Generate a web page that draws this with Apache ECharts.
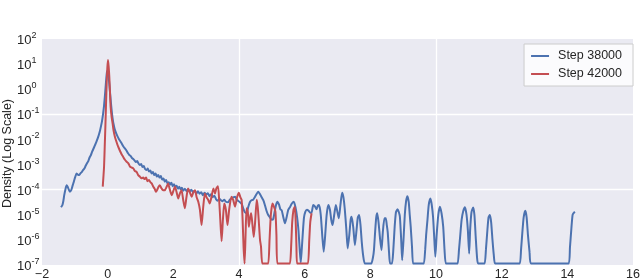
<!DOCTYPE html>
<html>
<head>
<meta charset="utf-8">
<script src="https://cdn.jsdelivr.net/npm/echarts@6/dist/echarts.min.js"></script>
<style>
html,body{margin:0;padding:0;background:#fff;}
#chart{width:640px;height:279px;}
</style>
</head>
<body>
<div id="chart"></div>
<script>
// Series names
const seriesNames = ['Step 38000', 'Step 42000'];
const yAxisTitle = 'Density (Log Scale)';

// Step 38000: x positions and log10(density)
const blueX = [-1.42,-1.38,-1.35,-1.32,-1.28,-1.25,-1.22,-1.19,-1.15,-1.11,-1.07,-1.03,-0.99,-0.95,-0.91,-0.87,-0.83,-0.79,-0.75,-0.71,-0.67,-0.63,-0.59,-0.55,-0.51,-0.47,-0.43,-0.39,-0.35,-0.31,-0.27,-0.23,-0.20,-0.17,-0.14,-0.11,-0.08,-0.05,-0.02,0.01,0.04,0.07,0.10,0.13,0.16,0.19,0.22,0.26,0.30,0.34,0.38,0.42,0.46,0.50,0.54,0.58,0.62,0.66,0.70,0.74,0.78,0.82,0.86,0.90,0.94,0.98,1.02,1.06,1.10,1.14,1.18,1.22,1.26,1.30,1.34,1.38,1.42,1.46,1.50,1.54,1.58,1.62,1.66,1.70,1.74,1.78,1.82,1.86,1.90,1.94,1.98,2.02,2.06,2.10,2.14,2.18,2.22,2.26,2.30,2.35,2.40,2.45,2.50,2.55,2.60,2.65,2.70,2.75,2.80,2.85,2.90,2.95,3.00,3.05,3.10,3.15,3.20,3.25,3.30,3.35,3.40,3.45,3.50,3.55,3.60,3.67,3.72,3.78,3.84,3.88,3.93,3.98,4.03,4.08,4.13,4.18,4.23,4.28,4.33,4.38,4.43,4.48,4.54,4.59,4.64,4.69,4.74,4.79,4.84,4.89,4.94,5.00,5.04,5.09,5.13,5.17,5.22,5.26,5.30,5.35,5.40,5.45,5.50,5.55,5.61,5.67,5.72,5.77,5.81,5.85,5.88,5.91,5.95,5.98,6.02,6.07,6.12,6.17,6.21,6.26,6.31,6.36,6.40,6.44,6.49,6.54,6.58,6.62,6.67,6.72,6.77,6.81,6.85,6.90,6.95,7.00,7.04,7.09,7.14,7.18,7.22,7.27,7.31,7.36,7.40,7.43,7.48,7.53,7.58,7.62,7.66,7.70,7.74,7.78,7.83,7.90,7.97,8.03,8.08,8.11,8.15,8.18,8.21,8.25,8.30,8.34,8.38,8.43,8.47,8.50,8.53,8.57,8.60,8.66,8.70,8.74,8.78,8.83,8.87,8.90,8.94,8.97,9.01,9.05,9.09,9.13,9.17,9.20,9.23,9.27,9.30,9.36,9.46,9.56,9.63,9.67,9.70,9.74,9.78,9.83,9.87,9.91,9.95,9.98,10.02,10.07,10.12,10.17,10.22,10.26,10.30,10.40,10.50,10.60,10.66,10.70,10.74,10.78,10.83,10.88,10.93,10.97,11.01,11.04,11.08,11.13,11.17,11.21,11.25,11.28,11.38,11.48,11.52,11.56,11.60,11.64,11.68,11.72,11.76,11.80,12.00,12.20,12.40,12.55,12.59,12.63,12.67,12.72,12.76,12.80,12.85,12.89,13.20,13.50,13.80,14.04,14.08,14.12,14.16,14.20,14.23];
const blueLog = [-4.70,-4.62,-4.45,-4.20,-3.95,-3.82,-3.88,-3.98,-4.08,-4.02,-3.85,-3.68,-3.50,-3.36,-3.40,-3.42,-3.35,-3.30,-3.22,-3.16,-3.05,-2.95,-2.86,-2.72,-2.62,-2.48,-2.36,-2.24,-2.12,-1.98,-1.82,-1.63,-1.45,-1.25,-0.98,-0.65,-0.20,0.30,0.70,0.75,0.35,-0.10,-0.55,-0.95,-1.25,-1.45,-1.62,-1.76,-1.88,-1.98,-2.06,-2.14,-2.24,-2.32,-2.38,-2.46,-2.55,-2.62,-2.66,-2.74,-2.78,-2.84,-2.90,-2.86,-2.96,-3.02,-2.98,-3.10,-3.06,-3.18,-3.22,-3.16,-3.28,-3.24,-3.36,-3.30,-3.42,-3.36,-3.48,-3.42,-3.52,-3.46,-3.60,-3.56,-3.68,-3.62,-3.74,-3.70,-3.80,-3.72,-3.86,-3.78,-3.90,-3.84,-3.96,-3.88,-3.98,-3.92,-4.04,-3.96,-4.06,-3.98,-4.08,-4.00,-4.10,-4.04,-4.16,-4.06,-4.16,-4.10,-4.22,-4.12,-4.20,-4.14,-4.26,-4.18,-4.30,-4.24,-4.38,-4.44,-4.36,-4.42,-4.46,-4.40,-4.48,-4.50,-4.40,-4.34,-4.30,-4.28,-4.40,-4.45,-4.50,-4.56,-4.75,-4.90,-4.94,-4.70,-4.50,-4.42,-4.40,-4.30,-4.16,-4.08,-4.18,-4.30,-4.42,-4.62,-4.85,-5.01,-5.10,-5.20,-5.18,-4.85,-4.60,-4.48,-4.60,-4.78,-4.82,-5.10,-5.34,-5.10,-4.80,-4.70,-4.55,-4.48,-4.70,-5.10,-5.60,-6.40,-6.90,-6.40,-5.60,-5.10,-4.88,-4.80,-4.84,-4.92,-4.92,-4.61,-4.66,-4.78,-4.64,-4.61,-5.00,-5.90,-6.47,-5.90,-5.00,-4.61,-4.80,-5.20,-5.41,-5.00,-4.61,-4.90,-5.14,-4.60,-4.12,-4.30,-4.75,-5.60,-6.34,-5.80,-5.20,-5.08,-5.50,-6.21,-5.60,-5.10,-5.01,-5.40,-6.10,-6.61,-6.94,-6.94,-6.94,-6.94,-6.70,-6.41,-5.60,-5.10,-4.94,-5.30,-6.00,-6.41,-5.70,-5.14,-5.14,-5.40,-5.70,-6.50,-6.94,-6.94,-6.40,-5.50,-4.90,-4.78,-4.90,-5.08,-6.00,-6.81,-6.00,-5.00,-4.45,-4.26,-4.50,-5.00,-5.48,-6.30,-6.94,-6.94,-6.94,-6.94,-6.94,-6.40,-5.80,-5.20,-4.60,-4.35,-4.60,-5.08,-6.00,-6.67,-5.80,-5.00,-4.68,-4.95,-5.48,-6.40,-6.94,-6.94,-6.94,-6.94,-6.94,-6.40,-5.80,-5.20,-4.85,-4.70,-5.00,-5.60,-6.54,-5.60,-4.90,-4.71,-5.00,-5.90,-6.70,-6.94,-6.94,-6.94,-6.40,-5.70,-5.10,-5.01,-5.30,-6.00,-6.60,-6.94,-6.94,-6.94,-6.94,-6.94,-6.40,-5.70,-5.10,-4.84,-5.10,-5.80,-6.50,-6.94,-6.94,-6.94,-6.94,-6.94,-6.30,-5.60,-5.00,-4.92,-4.88];

// Step 42000
const redX = [-0.15,-0.13,-0.11,-0.09,-0.07,-0.05,-0.03,-0.01,0.01,0.03,0.05,0.07,0.09,0.12,0.15,0.18,0.22,0.27,0.32,0.37,0.42,0.47,0.52,0.57,0.63,0.68,0.73,0.78,0.83,0.88,0.93,0.98,1.03,1.08,1.12,1.17,1.21,1.26,1.30,1.34,1.39,1.43,1.47,1.51,1.55,1.59,1.64,1.69,1.74,1.79,1.84,1.89,1.95,2.00,2.05,2.10,2.15,2.20,2.25,2.30,2.35,2.40,2.45,2.50,2.56,2.61,2.66,2.71,2.76,2.81,2.86,2.91,2.96,3.01,3.06,3.11,3.16,3.22,3.27,3.31,3.36,3.40,3.43,3.47,3.51,3.55,3.60,3.65,3.70,3.77,3.82,3.88,3.94,4.00,4.04,4.08,4.11,4.14,4.17,4.20,4.23,4.27,4.30,4.34,4.37,4.41,4.45,4.49,4.54,4.57,4.60,4.64,4.67,4.71,4.80,4.89,4.93,4.97,5.02,5.07,5.11,5.14,5.17,5.30,5.45,5.55,5.59,5.62,5.66,5.70,5.73,5.75,5.77,5.90,6.00,6.10,6.14,6.17,6.21];
const redLog = [-3.88,-3.50,-3.09,-2.30,-1.49,-0.60,0.24,0.85,1.16,0.90,0.50,-0.10,-0.70,-1.10,-1.36,-1.65,-1.89,-2.10,-2.29,-2.44,-2.58,-2.69,-2.80,-2.88,-2.95,-3.08,-3.12,-3.15,-3.26,-3.29,-3.42,-3.48,-3.55,-3.52,-3.58,-3.52,-3.66,-3.62,-3.70,-3.75,-3.88,-3.96,-4.08,-4.00,-3.88,-3.82,-3.95,-4.02,-4.02,-3.90,-3.75,-3.98,-4.22,-4.05,-3.88,-4.10,-4.35,-4.15,-4.02,-4.40,-4.74,-4.30,-3.95,-4.10,-4.28,-4.10,-4.02,-4.30,-4.48,-4.80,-5.41,-4.70,-4.15,-4.30,-4.40,-4.55,-4.30,-3.95,-4.15,-3.95,-3.86,-4.50,-5.20,-6.05,-5.20,-4.55,-4.80,-5.41,-4.80,-4.28,-4.40,-4.68,-4.30,-4.12,-4.30,-4.41,-5.20,-6.30,-6.94,-5.80,-4.74,-4.90,-5.48,-5.10,-4.94,-5.40,-5.88,-5.30,-4.40,-4.68,-5.20,-6.00,-6.27,-6.94,-6.94,-6.94,-6.00,-5.00,-4.55,-4.70,-4.88,-5.80,-6.94,-6.94,-6.94,-6.94,-6.20,-5.30,-4.80,-4.68,-5.40,-6.30,-6.94,-6.94,-6.94,-6.94,-6.00,-5.30,-4.94];

// Axis ticks
const xTicks = [-2,0,2,4,6,8,10,12,14,16];
const yExponents = [-7,-6,-5,-4,-3,-2,-1,0,1,2];

const toPairs = (xs, logs) => xs.map((x, i) => [x, Math.pow(10, logs[i])]);

const chart = echarts.init(document.getElementById('chart'), null, {renderer:'canvas'});
const FONT = 'Liberation Sans';
const TXT = '#262626';

chart.setOption({
  animation: false,
  backgroundColor: '#ffffff',
  textStyle: {fontFamily: FONT},
  grid: {left: 42, right: 7, top: 39, bottom: 14, containLabel: false, outerBoundsMode: 'none',
         show: true, backgroundColor: '#EAEAF2', borderWidth: 0},
  graphic: [{
    type: 'text', left: 1, top: 99, rotation: Math.PI / 2, silent: true,
    style: {text: yAxisTitle, fontFamily: FONT, fontSize: 12.5, fill: TXT}
  }],
  legend: {
    orient: 'vertical', right: 7, top: 44,
    data: seriesNames.map(n => ({name: n, icon: 'rect'})),
    itemWidth: 18, itemHeight: 2, itemGap: 4,
    padding: [5, 11, 5, 7],
    backgroundColor: 'rgba(255,255,255,0.8)',
    borderColor: '#cccccc', borderWidth: 1, borderRadius: 0,
    textStyle: {fontFamily: FONT, fontSize: 12.5, color: TXT, padding: [0,0,0,4], lineHeight: 14}
  },
  xAxis: [{
    type: 'value', min: xTicks[0], max: xTicks[xTicks.length-1], interval: 2,
    axisLine: {show: false}, axisTick: {show: false}, splitLine: {show: false},
    axisLabel: {margin: 3, fontSize: 12.5, color: TXT, fontFamily: FONT,
      formatter: v => (v < 0 ? '\u2212' + Math.abs(v) : String(v))}
  }, {
    type: 'value', min: -2, max: 16, interval: 6, position: 'top',
    axisLine: {show: false}, axisTick: {show: false}, axisLabel: {show: false},
    splitLine: {show: true, showMinLine: false, showMaxLine: false, lineStyle: {color: '#ffffff', width: 1.3}}
  }],
  yAxis: [{
    type: 'log', logBase: 10, min: Math.pow(10, yExponents[0]), max: Math.pow(10, yExponents[yExponents.length-1]),
    axisLine: {show: false}, axisTick: {show: false}, splitLine: {show: false},
    axisLabel: {
      margin: 25, align: 'left', fontFamily: FONT, color: TXT,
      formatter: v => '{b|10}{s|' + Math.round(Math.log10(v)) + '}',
      rich: {
        b: {fontSize: 13, fontFamily: FONT, color: TXT, lineHeight: 16, verticalAlign: 'bottom'},
        s: {fontSize: 9, fontFamily: FONT, color: TXT, lineHeight: 16, verticalAlign: 'top'}
      }
    }
  }, {
    type: 'value', min: -7, max: 2, interval: 3, position: 'right',
    axisLine: {show: false}, axisTick: {show: false}, axisLabel: {show: false},
    splitLine: {show: true, showMinLine: false, showMaxLine: false, lineStyle: {color: '#ffffff', width: 1.3}}
  }],
  series: [{
    name: seriesNames[0], type: 'line', xAxisIndex: 0, yAxisIndex: 0,
    data: toPairs(blueX, blueLog), showSymbol: false, symbol: 'none', smooth: 0.2,
    lineStyle: {color: '#4C72B0', width: 2}, itemStyle: {color: '#4C72B0'}, z: 3
  }, {
    name: seriesNames[1], type: 'line', xAxisIndex: 0, yAxisIndex: 0,
    data: toPairs(redX, redLog), showSymbol: false, symbol: 'none', smooth: 0.2,
    lineStyle: {color: '#C44E52', width: 2}, itemStyle: {color: '#C44E52'}, z: 4
  }]
});
</script>
</body>
</html>
